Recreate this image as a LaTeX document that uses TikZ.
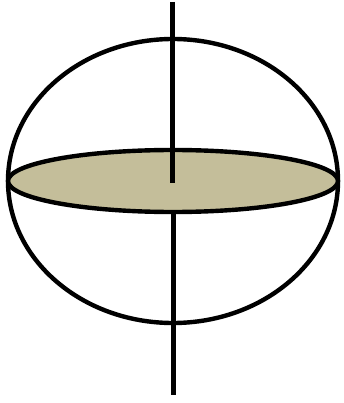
\documentclass[tikz,border=0pt]{standalone}
\definecolor{disc}{RGB}{196,190,154}
\begin{document}
\begin{tikzpicture}[x=1pt,y=-1pt,line width=4.4pt,
  outline/.style={draw=black},
  axisline/.style={draw=black,line cap=butt,line width=5pt}]
\useasboundingbox (0,0) rectangle (344,403);
\coordinate (c) at (173,181);
\draw[outline] (c) ellipse [x radius=165, y radius=142];
\draw[outline,fill=disc] (c) ellipse [x radius=165, y radius=31];
\coordinate (t1) at (172,2);
\coordinate (t2) at (172,183);
\coordinate (b1) at (173,212);
\coordinate (b2) at (173,395);
\draw[axisline] (t1) -- (t2);
\draw[axisline] (b1) -- (b2);
\end{tikzpicture}
\end{document}
